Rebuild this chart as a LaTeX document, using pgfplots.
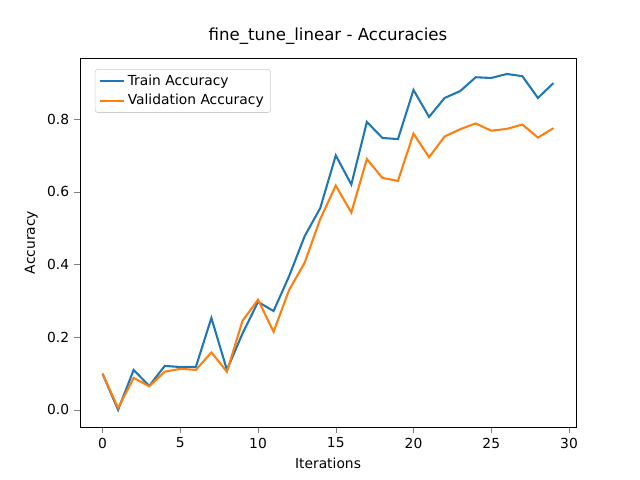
\documentclass[border=0pt]{standalone}
\usepackage{pgfplots}
\pgfplotsset{compat=1.18}
\usepackage{fontspec}
\setmainfont{DejaVu Sans}
\definecolor{mplblue}{HTML}{1F77B4}
\definecolor{mplorange}{HTML}{FF7F0E}
\begin{document}
\begin{tikzpicture}
\path (-0.8in,-0.53in) rectangle (5.6in,4.27in);
\begin{axis}[at={(0,0)},anchor=south west,scale only axis,
 width=4.96in,height=3.69in,
 xmin=-1.45,xmax=30.45,ymin=-0.047,ymax=0.968,
 xtick={0,5,...,30},ytick={0,0.2,...,0.8},
 yticklabel style={/pgf/number format/.cd,fixed,fixed zerofill,precision=1},
 /pgf/number format/assume math mode=true,
 tick label style={font=\fontsize{10}{12}\selectfont},
 label style={font=\fontsize{10}{12}\selectfont},
 tick align=outside, tick pos=left,
 xlabel={Iterations}, ylabel={Accuracy},
 title={fine\_tune\_linear - Accuracies},
 title style={font=\fontsize{12}{14}\selectfont},
 legend pos=north west,
 legend style={font=\fontsize{10}{12}\selectfont,draw=black!20,rounded corners=2pt,row sep=1pt},
 legend cell align=left,
 every axis plot/.append style={line width=1.5pt,no markers}]
\addplot[mplblue] coordinates {(0,0.099)(1,0.0)(2,0.11)(3,0.066)(4,0.121)(5,0.118)(6,0.118)(7,0.253)(8,0.11)(9,0.21)(10,0.297)(11,0.272)(12,0.368)(13,0.478)(14,0.555)(15,0.70)(16,0.62)(17,0.792)(18,0.748)(19,0.745)(20,0.88)(21,0.806)(22,0.858)(23,0.877)(24,0.915)(25,0.913)(26,0.924)(27,0.918)(28,0.858)(29,0.899)};
\addlegendentry{Train Accuracy}
\addplot[mplorange] coordinates {(0,0.10)(1,0.005)(2,0.088)(3,0.065)(4,0.105)(5,0.113)(6,0.11)(7,0.158)(8,0.105)(9,0.245)(10,0.303)(11,0.215)(12,0.33)(13,0.405)(14,0.525)(15,0.617)(16,0.543)(17,0.69)(18,0.638)(19,0.63)(20,0.76)(21,0.695)(22,0.752)(23,0.772)(24,0.788)(25,0.768)(26,0.773)(27,0.785)(28,0.749)(29,0.775)};
\addlegendentry{Validation Accuracy}
\end{axis}
\end{tikzpicture}
\end{document}
